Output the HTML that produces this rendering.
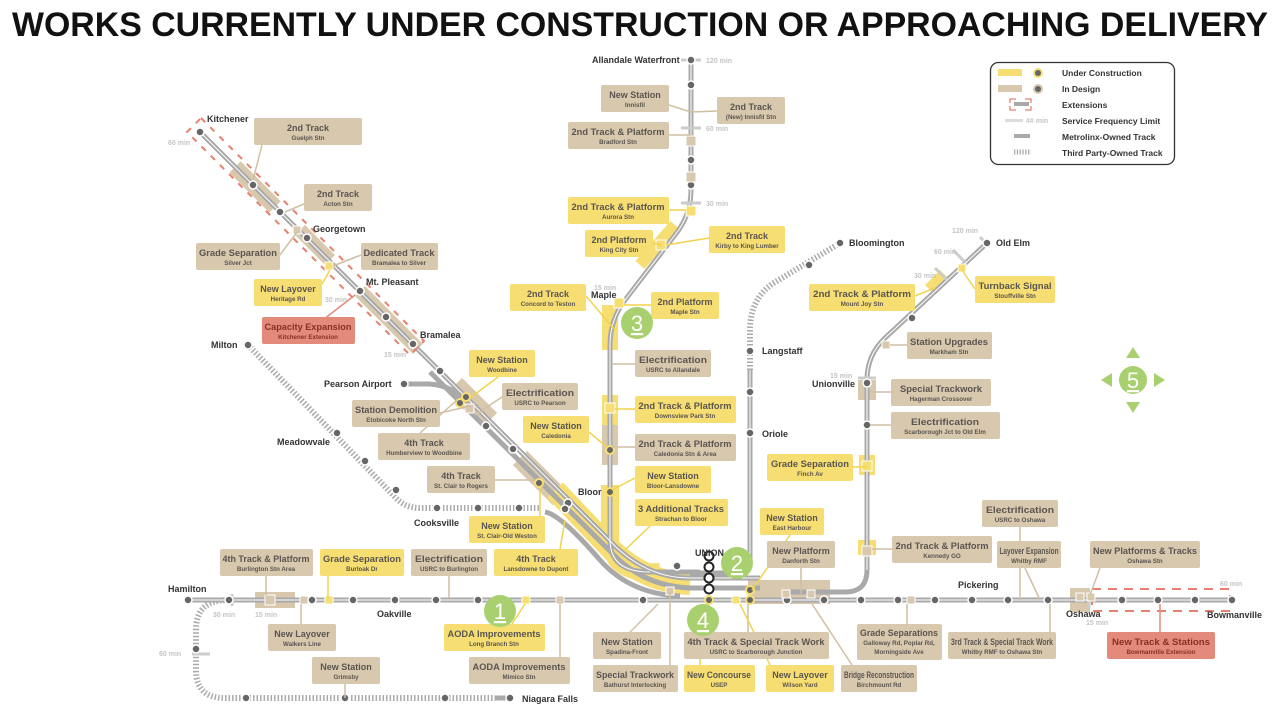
<!DOCTYPE html>
<html><head><meta charset="utf-8"><style>
html,body{margin:0;padding:0;background:#fff}
svg{display:block}
.t{fill:#d8c8ae}.y{fill:#f6de73}.r{fill:#e48a7b}
.h{font:bold 9px "Liberation Sans",sans-serif;fill:#5a5550;text-anchor:middle}
.s{font:bold 6.2px "Liberation Sans",sans-serif;fill:#5a5550;text-anchor:middle}
.rt .h,.rt .s{fill:#8a2f25}
.st{font:bold 9px "Liberation Sans",sans-serif;fill:#333}
.mn{font:bold 7px "Liberation Sans",sans-serif;fill:#c4c4c4}
.lg{font:bold 8.5px "Liberation Sans",sans-serif;fill:#333}
.d{fill:#666;stroke:#fff;stroke-width:1.5}
.dy{fill:#666;stroke:#f6de73;stroke-width:2}
.trk{fill:none;stroke:#a9a9a9;stroke-width:5}
.tp{fill:none;stroke:#aaa;stroke-width:6;stroke-dasharray:1.5 2}
.cn{stroke:#d0bfa3;stroke-width:1.5;fill:none}
.cy{stroke:#f0d34f;stroke-width:1.5;fill:none}
.gb{fill:#a9d06f}
.gn{font:22px "Liberation Sans",sans-serif;fill:#fff;text-anchor:middle;text-decoration:underline}
</style></head><body>
<svg width="1280" height="711" viewBox="0 0 1280 711" xmlns="http://www.w3.org/2000/svg">
<text x="640" y="36" text-anchor="middle" textLength="1256" lengthAdjust="spacingAndGlyphs" style="font:900 34px 'Liberation Sans',sans-serif;fill:#111">WORKS CURRENTLY UNDER CONSTRUCTION OR APPROACHING DELIVERY</text>

<g fill="none" stroke-linecap="butt">
<path d="M235,167 L275,207" stroke="#d8c8ae" stroke-width="16"/>
<path d="M300,230 L330,260" stroke="#d8c8ae" stroke-width="14"/>
<path d="M360,291 L418,349" stroke="#d8c8ae" stroke-width="14"/>
<path d="M455,385 L490,420" stroke="#d8c8ae" stroke-width="20"/>
<path d="M520,458 L560,498" stroke="#d8c8ae" stroke-width="20"/>
<path d="M555,490 L612,550 Q645,582 690,584" stroke="#f6de73" stroke-width="22"/>
<path d="M610,485 L610,540 Q612,575 660,572" stroke="#f6de73" stroke-width="18"/>
<path d="M610,395 L610,465" stroke="#d8c8ae" stroke-width="16"/>
<path d="M610,395 L610,425" stroke="#f6de73" stroke-width="16"/>
<path d="M610,305 L610,350" stroke="#f6de73" stroke-width="16"/>
<path d="M640,265 L675,225" stroke="#f6de73" stroke-width="12"/>
<path d="M748,592 L830,592" stroke="#d8c8ae" stroke-width="24"/>
<path d="M255,600 L295,600" stroke="#d8c8ae" stroke-width="16"/>
<path d="M867,380 L867,400" stroke="#d8c8ae" stroke-width="18"/>
<path d="M867,455 L867,475" stroke="#f6de73" stroke-width="16"/>
<path d="M867,540 L867,555" stroke="#f6de73" stroke-width="18"/>
<path d="M1070,600 L1090,600" stroke="#d8c8ae" stroke-width="24"/>
<path d="M930,290 L945,275" stroke="#f6de73" stroke-width="14"/>
</g>

<path class="tp" d="M248,345 L395,497 Q405,508 420,508 L540,508"/>
<path class="tp" d="M228,600 Q196,600 196,630 L196,670 Q196,698 225,698 L495,698"/>
<path class="trk" d="M495,698 L510,698"/>
<path class="tp" d="M750,370 L750,330 Q750,300 772,284 L840,243"/>
<path class="trk" d="M200,132 L610,541 Q645,578 690,578 L760,578"/>
<path class="trk" d="M430,372 L615,556 Q645,586 690,588 L760,588"/>
<path class="trk" d="M545,512 Q560,514 600,560 Q630,594 680,596"/>
<path class="trk" d="M404,384 L430,384 Q455,386 470,405"/>
<path class="trk" d="M691,60 L691,190 Q691,215 675,235 L625,300 Q610,320 610,345 L610,540 Q610,572 650,572 L700,572"/>
<path class="trk" d="M690,573 L735,573 Q750,573 750,558 L750,370"/>
<path class="trk" d="M790,592 L845,592 Q867,592 867,570 L867,380 Q867,355 885,338 L987,243"/>
<path class="trk" d="M185,600 L1232,600"/>
<g stroke="#fff" stroke-width="1" fill="none">
<path d="M200,132 L610,541 Q645,578 690,578 L760,578"/>
<path d="M691,60 L691,190 Q691,215 675,235 L625,300 Q610,320 610,345 L610,540 Q610,572 650,572"/>
<path d="M750,370 L750,558"/><path d="M867,570 L867,380 Q867,355 885,338 L987,243"/>
<path d="M185,600 L1232,600"/>
</g>

<polygon points="201,118 424,341 410,355 187,132" fill="none" stroke="#e8806e" stroke-width="2" stroke-dasharray="6 7"/>
<rect x="1092" y="589" width="138" height="22" fill="none" stroke="#e8806e" stroke-width="2" stroke-dasharray="9 7"/>

<g stroke="#ccc" stroke-width="3">
<path d="M681,60 L701,60"/><path d="M681,128 L701,128"/><path d="M681,203 L701,203"/>
<path d="M232,594 L232,606"/><path d="M272,594 L272,606"/><path d="M192,654 L210,654"/>
<path d="M858,378 L876,378"/><path d="M935,268 L947,280"/><path d="M953,250 L965,262"/><path d="M980,237 L990,247"/>
<path d="M1089,592 L1089,608"/>
</g>
<g class="mn">
<text x="706" y="63">120 min</text><text x="706" y="131">60 min</text><text x="706" y="206">30 min</text>
<text x="594" y="290">15 min</text><text x="168" y="145">60 min</text><text x="325" y="302">30 min</text><text x="384" y="357">15 min</text>
<text x="213" y="617">30 min</text><text x="255" y="617">15 min</text><text x="159" y="656">60 min</text>
<text x="830" y="378">15 min</text><text x="914" y="278">30 min</text><text x="934" y="254">60 min</text><text x="952" y="233">120 min</text>
<text x="1220" y="586">60 min</text><text x="1086" y="625">15 min</text>
</g>

<g>
<circle class="d" cx="200" cy="132" r="4"/><circle class="d" cx="253" cy="185" r="4"/><circle class="d" cx="280" cy="212" r="4"/><circle class="d" cx="307" cy="238" r="4"/><circle class="d" cx="360" cy="291" r="4"/><circle class="d" cx="386" cy="317" r="4"/><circle class="d" cx="413" cy="344" r="4"/><circle class="d" cx="440" cy="371" r="4"/><circle class="d" cx="486" cy="426" r="4"/><circle class="d" cx="513" cy="449" r="4"/>
<circle class="dy" cx="466" cy="397" r="4"/><circle class="dy" cx="460" cy="403" r="4"/><circle class="dy" cx="539" cy="483" r="4"/><circle class="d" cx="568" cy="503" r="4"/><circle class="d" cx="565" cy="509" r="4"/>
<circle class="d" cx="248" cy="345" r="4"/><circle class="d" cx="337" cy="433" r="4"/><circle class="d" cx="365" cy="461" r="4"/><circle class="d" cx="396" cy="490" r="4"/><circle class="d" cx="437" cy="508" r="4"/><circle class="d" cx="478" cy="508" r="4"/><circle class="d" cx="519" cy="508" r="4"/>
<circle class="d" cx="404" cy="384" r="4"/>
<circle class="d" cx="188" cy="600" r="4"/><circle class="d" cx="229" cy="600" r="4"/><circle class="d" cx="312" cy="600" r="4"/><circle class="d" cx="353" cy="600" r="4"/><circle class="d" cx="395" cy="600" r="4"/><circle class="d" cx="436" cy="600" r="4"/><circle class="d" cx="478" cy="600" r="4"/><circle class="d" cx="643" cy="600" r="4"/><circle class="dy" cx="709" cy="600" r="4"/><circle class="dy" cx="750" cy="600" r="4"/><circle class="dy" cx="750" cy="590" r="4"/><circle class="d" cx="787" cy="600" r="4"/><circle class="d" cx="824" cy="600" r="4"/><circle class="d" cx="861" cy="600" r="4"/><circle class="d" cx="898" cy="600" r="4"/><circle class="d" cx="935" cy="600" r="4"/><circle class="d" cx="972" cy="600" r="4"/><circle class="d" cx="1008" cy="600" r="4"/><circle class="d" cx="1048" cy="600" r="4"/><circle class="d" cx="1122" cy="600" r="4"/><circle class="d" cx="1158" cy="600" r="4"/><circle class="d" cx="1195" cy="600" r="4"/><circle class="d" cx="1232" cy="600" r="4"/>
<circle class="d" cx="246" cy="698" r="4"/><circle class="d" cx="345" cy="698" r="4"/><circle class="d" cx="445" cy="698" r="4"/><circle class="d" cx="510" cy="698" r="4"/><circle class="d" cx="196" cy="649" r="4"/>
<circle class="d" cx="691" cy="60" r="4"/><circle class="d" cx="691" cy="85" r="4"/><circle class="d" cx="691" cy="160" r="4"/><circle class="d" cx="691" cy="185" r="4"/><circle class="dy" cx="610" cy="450" r="4"/><circle class="dy" cx="610" cy="492" r="4"/><circle class="d" cx="677" cy="566" r="4"/>
<circle class="d" cx="750" cy="351" r="4"/><circle class="d" cx="750" cy="392" r="4"/><circle class="d" cx="750" cy="433" r="4"/><circle class="d" cx="809" cy="265" r="4"/><circle class="d" cx="840" cy="243" r="4"/>
<circle class="d" cx="987" cy="243" r="4"/><circle class="d" cx="912" cy="318" r="4"/><circle class="d" cx="867" cy="383" r="4"/><circle class="d" cx="867" cy="425" r="4"/>
<g fill="#fff" stroke="#222" stroke-width="2"><circle cx="709" cy="556" r="4.5"/><circle cx="709" cy="567" r="4.5"/><circle cx="709" cy="578" r="4.5"/><circle cx="709" cy="589" r="4.5"/></g>
</g>
<g fill="#f6de73" stroke="#fff" stroke-width="1"><rect x="325" y="262" width="8" height="8"/><rect x="325" y="596" width="8" height="8"/><rect x="522" y="596" width="8" height="8"/><rect x="732" y="596" width="8" height="8"/><rect x="686" y="206" width="10" height="10"/><rect x="605" y="403" width="10" height="10"/><rect x="614" y="298" width="10" height="10"/><rect x="656" y="240" width="10" height="10"/><rect x="862" y="461" width="10" height="10"/><rect x="958" y="264" width="8" height="8"/></g>
<g fill="#d8c8ae" stroke="#fff" stroke-width="1"><rect x="293" y="226" width="8" height="8"/><rect x="686" y="172" width="10" height="10"/><rect x="686" y="136" width="10" height="10"/><rect x="465" y="404" width="9" height="9"/><rect x="265" y="595" width="10" height="10"/><rect x="300" y="596" width="8" height="8"/><rect x="556" y="596" width="8" height="8"/><rect x="666" y="587" width="8" height="8"/><rect x="782" y="590" width="8" height="8"/><rect x="807" y="590" width="8" height="8"/><rect x="907" y="596" width="8" height="8"/><rect x="1076" y="593" width="8" height="8"/><rect x="1087" y="593" width="8" height="8"/><rect x="882" y="341" width="8" height="8"/><rect x="862" y="546" width="10" height="10"/></g>

<g class="cn">
<path d="M262,145 L253,180"/><path d="M304,204 L285,212"/><path d="M280,255 L297,232"/><path d="M361,255 L333,266"/><path d="M440,413 L470,406"/><path d="M420,433 L457,400"/><path d="M495,480 L535,480"/><path d="M502,397 L475,415"/><path d="M669,105 L691,112"/><path d="M717,111 L691,112"/><path d="M669,135 L691,135"/><path d="M635,364 L612,364"/><path d="M635,447 L612,447"/><path d="M266,576 L266,596"/><path d="M449,576 L449,598"/><path d="M301,604 L301,624"/><path d="M345,684 L345,698"/><path d="M560,604 L560,657"/><path d="M801,568 L801,594"/><path d="M812,604 L852,665"/><path d="M748,604 L748,632"/><path d="M630,632 L658,604"/><path d="M670,592 L670,665"/><path d="M907,604 L907,624"/><path d="M1020,527 L1020,600"/><path d="M1025,568 L1040,600"/><path d="M1100,568 L1090,595"/><path d="M1050,604 L1050,632"/><path d="M1160,604 L1160,632" style="stroke:#e48a7b"/><path d="M907,345 L890,345"/><path d="M891,392 L870,392"/><path d="M891,425 L870,425"/><path d="M892,549 L872,549"/>
</g>
<g class="cy">
<path d="M322,284 L330,270"/><path d="M310,330 L355,295" style="stroke:#e48a7b"/><path d="M498,377 L470,398"/><path d="M586,296 L615,330"/><path d="M651,305 L624,305"/><path d="M669,210 L686,210"/><path d="M653,243 L661,245"/><path d="M709,238 L666,245"/><path d="M589,432 L608,448"/><path d="M635,409 L615,409"/><path d="M635,478 L612,490"/><path d="M650,526 L625,550"/><path d="M540,516 L540,488"/><path d="M560,549 L565,520"/><path d="M328,576 L328,598"/><path d="M512,624 L525,604"/><path d="M790,535 L752,590"/><path d="M740,604 L770,665"/><path d="M700,655 L700,665"/><path d="M853,467 L867,467"/><path d="M915,296 L935,288"/><path d="M975,289 L962,270"/>
</g>

<g class="t"><rect x="254" y="118" width="108" height="27" rx="2"/><rect x="304" y="184" width="68" height="27" rx="2"/><rect x="196" y="243" width="84" height="27" rx="2"/><rect x="361" y="243" width="77" height="27" rx="2"/><rect x="502" y="383" width="76" height="27" rx="2"/><rect x="352" y="400" width="88" height="27" rx="2"/><rect x="378" y="433" width="92" height="27" rx="2"/><rect x="427" y="466" width="68" height="27" rx="2"/><rect x="220" y="549" width="93" height="27" rx="2"/><rect x="411" y="549" width="76" height="27" rx="2"/><rect x="268" y="624" width="68" height="27" rx="2"/><rect x="312" y="657" width="68" height="27" rx="2"/><rect x="469" y="657" width="101" height="27" rx="2"/><rect x="601" y="85" width="68" height="27" rx="2"/><rect x="717" y="97" width="68" height="27" rx="2"/><rect x="568" y="122" width="101" height="27" rx="2"/><rect x="635" y="350" width="76" height="27" rx="2"/><rect x="635" y="434" width="101" height="27" rx="2"/><rect x="767" y="541" width="68" height="27" rx="2"/><rect x="593" y="632" width="68" height="27" rx="2"/><rect x="684" y="632" width="145" height="27" rx="2"/><rect x="593" y="665" width="85" height="27" rx="2"/><rect x="841" y="665" width="76" height="27" rx="2"/><rect x="857" y="624" width="85" height="36" rx="2"/><rect x="892" y="536" width="100" height="27" rx="2"/><rect x="982" y="500" width="76" height="27" rx="2"/><rect x="997" y="541" width="64" height="27" rx="2"/><rect x="1090" y="541" width="110" height="27" rx="2"/><rect x="948" y="632" width="108" height="27" rx="2"/><rect x="907" y="332" width="85" height="27" rx="2"/><rect x="891" y="379" width="100" height="27" rx="2"/><rect x="891" y="412" width="109" height="27" rx="2"/></g>
<g class="y"><rect x="254" y="279" width="68" height="27" rx="2"/><rect x="469" y="350" width="66" height="27" rx="2"/><rect x="469" y="516" width="76" height="27" rx="2"/><rect x="494" y="549" width="84" height="27" rx="2"/><rect x="320" y="549" width="84" height="27" rx="2"/><rect x="444" y="624" width="101" height="27" rx="2"/><rect x="568" y="197" width="101" height="27" rx="2"/><rect x="585" y="230" width="68" height="27" rx="2"/><rect x="709" y="226" width="76" height="27" rx="2"/><rect x="510" y="284" width="76" height="27" rx="2"/><rect x="651" y="292" width="68" height="27" rx="2"/><rect x="635" y="396" width="101" height="27" rx="2"/><rect x="523" y="416" width="66" height="27" rx="2"/><rect x="635" y="466" width="76" height="27" rx="2"/><rect x="635" y="499" width="93" height="27" rx="2"/><rect x="760" y="508" width="64" height="27" rx="2"/><rect x="684" y="665" width="71" height="27" rx="2"/><rect x="766" y="665" width="68" height="27" rx="2"/><rect x="809" y="284" width="106" height="27" rx="2"/><rect x="975" y="276" width="80" height="27" rx="2"/><rect x="767" y="454" width="86" height="27" rx="2"/></g>
<g class="r"><rect x="262" y="317" width="93" height="27" rx="2"/><rect x="1107" y="632" width="108" height="27" rx="2"/></g>

<g>
<text class="h" x="308" y="131">2nd Track</text><text class="s" x="308" y="140">Guelph Stn</text>
<text class="h" x="338" y="197">2nd Track</text><text class="s" x="338" y="206">Acton Stn</text>
<text class="h" x="238" y="256" textLength="78" lengthAdjust="spacingAndGlyphs">Grade Separation</text><text class="s" x="238" y="265">Silver Jct</text>
<text class="h" x="399" y="256" textLength="71" lengthAdjust="spacingAndGlyphs">Dedicated Track</text><text class="s" x="399" y="265">Bramalea to Silver</text>
<text class="h" x="288" y="292">New Layover</text><text class="s" x="288" y="301">Heritage Rd</text>
<g class="rt"><text class="h" x="308" y="330" textLength="87" lengthAdjust="spacingAndGlyphs">Capacity Expansion</text><text class="s" x="308" y="339">Kitchener Extension</text>
<text class="h" x="1161" y="645" textLength="98" lengthAdjust="spacingAndGlyphs">New Track &amp; Stations</text><text class="s" x="1161" y="654">Bowmanville Extension</text></g>
<text class="h" x="502" y="363">New Station</text><text class="s" x="502" y="372">Woodbine</text>
<text class="h" x="540" y="396" textLength="68" lengthAdjust="spacingAndGlyphs">Electrification</text><text class="s" x="540" y="405">USRC to Pearson</text>
<text class="h" x="396" y="413" textLength="82" lengthAdjust="spacingAndGlyphs">Station Demolition</text><text class="s" x="396" y="422">Etobicoke North Stn</text>
<text class="h" x="424" y="446">4th Track</text><text class="s" x="424" y="455">Humberview to Woodbine</text>
<text class="h" x="461" y="479">4th Track</text><text class="s" x="461" y="488">St. Clair to Rogers</text>
<text class="h" x="507" y="529">New Station</text><text class="s" x="507" y="538">St. Clair-Old Weston</text>
<text class="h" x="536" y="562">4th Track</text><text class="s" x="536" y="571">Lansdowne to Dupont</text>
<text class="h" x="266" y="562" textLength="87" lengthAdjust="spacingAndGlyphs">4th Track &amp; Platform</text><text class="s" x="266" y="571">Burlington Stn Area</text>
<text class="h" x="362" y="562" textLength="78" lengthAdjust="spacingAndGlyphs">Grade Separation</text><text class="s" x="362" y="571">Burloak Dr</text>
<text class="h" x="449" y="562" textLength="68" lengthAdjust="spacingAndGlyphs">Electrification</text><text class="s" x="449" y="571">USRC to Burlington</text>
<text class="h" x="302" y="637">New Layover</text><text class="s" x="302" y="646">Walkers Line</text>
<text class="h" x="494" y="637" textLength="93" lengthAdjust="spacingAndGlyphs">AODA Improvements</text><text class="s" x="494" y="646">Long Branch Stn</text>
<text class="h" x="346" y="670">New Station</text><text class="s" x="346" y="679">Grimsby</text>
<text class="h" x="519" y="670" textLength="93" lengthAdjust="spacingAndGlyphs">AODA Improvements</text><text class="s" x="519" y="679">Mimico Stn</text>
<text class="h" x="635" y="98">New Station</text><text class="s" x="635" y="107">Innisfil</text>
<text class="h" x="751" y="110">2nd Track</text><text class="s" x="751" y="119">(New) Innisfil Stn</text>
<text class="h" x="618" y="135" textLength="93" lengthAdjust="spacingAndGlyphs">2nd Track &amp; Platform</text><text class="s" x="618" y="144">Bradford Stn</text>
<text class="h" x="618" y="210" textLength="93" lengthAdjust="spacingAndGlyphs">2nd Track &amp; Platform</text><text class="s" x="618" y="219">Aurora Stn</text>
<text class="h" x="619" y="243">2nd Platform</text><text class="s" x="619" y="252">King City Stn</text>
<text class="h" x="747" y="239">2nd Track</text><text class="s" x="747" y="248">Kirby to King Lumber</text>
<text class="h" x="548" y="297">2nd Track</text><text class="s" x="548" y="306">Concord to Teston</text>
<text class="h" x="685" y="305">2nd Platform</text><text class="s" x="685" y="314">Maple Stn</text>
<text class="h" x="673" y="363" textLength="68" lengthAdjust="spacingAndGlyphs">Electrification</text><text class="s" x="673" y="372">USRC to Allandale</text>
<text class="h" x="685" y="409" textLength="93" lengthAdjust="spacingAndGlyphs">2nd Track &amp; Platform</text><text class="s" x="685" y="418">Downsview Park Stn</text>
<text class="h" x="556" y="429">New Station</text><text class="s" x="556" y="438">Caledonia</text>
<text class="h" x="685" y="447" textLength="93" lengthAdjust="spacingAndGlyphs">2nd Track &amp; Platform</text><text class="s" x="685" y="456">Caledonia Stn &amp; Area</text>
<text class="h" x="673" y="479">New Station</text><text class="s" x="673" y="488">Bloor-Lansdowne</text>
<text class="h" x="681" y="512" textLength="86" lengthAdjust="spacingAndGlyphs">3 Additional Tracks</text><text class="s" x="681" y="521">Strachan to Bloor</text>
<text class="h" x="792" y="521">New Station</text><text class="s" x="792" y="530">East Harbour</text>
<text class="h" x="801" y="554">New Platform</text><text class="s" x="801" y="563">Danforth Stn</text>
<text class="h" x="627" y="645">New Station</text><text class="s" x="627" y="654">Spadina-Front</text>
<text class="h" x="756" y="645" textLength="137" lengthAdjust="spacingAndGlyphs">4th Track &amp; Special Track Work</text><text class="s" x="756" y="654">USRC to Scarborough Junction</text>
<text class="h" x="635" y="678" textLength="78" lengthAdjust="spacingAndGlyphs">Special Trackwork</text><text class="s" x="635" y="687">Bathurst Interlocking</text>
<text class="h" x="719" y="678" textLength="64" lengthAdjust="spacingAndGlyphs">New Concourse</text><text class="s" x="719" y="687">USEP</text>
<text class="h" x="800" y="678">New Layover</text><text class="s" x="800" y="687">Wilson Yard</text>
<text class="h" x="879" y="678" textLength="70" lengthAdjust="spacingAndGlyphs">Bridge Reconstruction</text><text class="s" x="879" y="687">Birchmount Rd</text>
<text class="h" x="899" y="636" textLength="78" lengthAdjust="spacingAndGlyphs">Grade Separations</text><text class="s" x="899" y="645">Galloway Rd, Poplar Rd,</text><text class="s" x="899" y="654">Morningside Ave</text>
<text class="h" x="942" y="549" textLength="93" lengthAdjust="spacingAndGlyphs">2nd Track &amp; Platform</text><text class="s" x="942" y="558">Kennedy GO</text>
<text class="h" x="1020" y="513" textLength="68" lengthAdjust="spacingAndGlyphs">Electrification</text><text class="s" x="1020" y="522">USRC to Oshawa</text>
<text class="h" x="1029" y="554" textLength="59" lengthAdjust="spacingAndGlyphs">Layover Expansion</text><text class="s" x="1029" y="563">Whitby RMF</text>
<text class="h" x="1145" y="554" textLength="104" lengthAdjust="spacingAndGlyphs">New Platforms &amp; Tracks</text><text class="s" x="1145" y="563">Oshawa Stn</text>
<text class="h" x="1002" y="645" textLength="102" lengthAdjust="spacingAndGlyphs">3rd Track &amp; Special Track Work</text><text class="s" x="1002" y="654">Whitby RMF to Oshawa Stn</text>
<text class="h" x="862" y="297" textLength="98" lengthAdjust="spacingAndGlyphs">2nd Track &amp; Platform</text><text class="s" x="862" y="306">Mount Joy Stn</text>
<text class="h" x="1015" y="289" textLength="73" lengthAdjust="spacingAndGlyphs">Turnback Signal</text><text class="s" x="1015" y="298">Stouffville Stn</text>
<text class="h" x="949" y="345" textLength="78" lengthAdjust="spacingAndGlyphs">Station Upgrades</text><text class="s" x="949" y="354">Markham Stn</text>
<text class="h" x="941" y="392" textLength="82" lengthAdjust="spacingAndGlyphs">Special Trackwork</text><text class="s" x="941" y="401">Hagerman Crossover</text>
<text class="h" x="945" y="425" textLength="68" lengthAdjust="spacingAndGlyphs">Electrification</text><text class="s" x="945" y="434">Scarborough Jct to Old Elm</text>
<text class="h" x="810" y="467" textLength="78" lengthAdjust="spacingAndGlyphs">Grade Separation</text><text class="s" x="810" y="476">Finch Av</text>
</g>

<g class="st">
<text x="207" y="122">Kitchener</text><text x="313" y="232">Georgetown</text><text x="366" y="285">Mt. Pleasant</text><text x="420" y="338">Bramalea</text>
<text x="211" y="348">Milton</text><text x="324" y="387">Pearson Airport</text><text x="277" y="445">Meadowvale</text><text x="414" y="526">Cooksville</text><text x="578" y="495">Bloor</text>
<text x="168" y="592">Hamilton</text><text x="377" y="617">Oakville</text><text x="522" y="702">Niagara Falls</text><text x="695" y="556">UNION</text>
<text x="592" y="63">Allandale Waterfront</text><text x="591" y="298">Maple</text><text x="762" y="354">Langstaff</text><text x="762" y="437">Oriole</text>
<text x="849" y="246">Bloomington</text><text x="996" y="246">Old Elm</text><text x="812" y="387">Unionville</text><text x="958" y="588">Pickering</text><text x="1066" y="617">Oshawa</text><text x="1207" y="618">Bowmanville</text>
</g>

<g>
<circle class="gb" cx="500" cy="611" r="16"/><text class="gn" x="500" y="619">1</text>
<circle class="gb" cx="737" cy="563" r="16"/><text class="gn" x="737" y="571">2</text>
<circle class="gb" cx="637" cy="323" r="16"/><text class="gn" x="637" y="331">3</text>
<circle class="gb" cx="703" cy="620" r="16"/><text class="gn" x="703" y="628">4</text>
<circle class="gb" cx="1133" cy="380" r="14"/><text class="gn" x="1133" y="388">5</text>
<g fill="#a9d06f"><polygon points="1133,347 1126,358 1140,358"/><polygon points="1133,413 1126,402 1140,402"/><polygon points="1101,380 1112,373 1112,387"/><polygon points="1165,380 1154,373 1154,387"/></g>
</g>

<rect x="990.5" y="62.5" width="184" height="102" rx="8" fill="#fff" stroke="#333" stroke-width="1.3"/>
<rect x="998" y="69" width="24" height="7" fill="#f6de73"/><circle cx="1038" cy="73" r="4" fill="#666" stroke="#f6de73" stroke-width="2"/>
<rect x="998" y="85" width="24" height="7" fill="#d8c8ae"/><circle cx="1038" cy="89" r="4" fill="#666" stroke="#d8c8ae" stroke-width="2"/>
<rect x="1014" y="102" width="15" height="4" fill="#a9a9a9"/><path d="M1010,103 v-4 h6 M1025,99 h6 v4 M1010,106 v4 h6 M1025,110 h6 v-4" stroke="#e8806e" fill="none" stroke-width="1.3"/>
<rect x="1005" y="119" width="18" height="3" fill="#ddd"/><text x="1026" y="123" class="mn">## min</text>
<rect x="1014" y="134" width="16" height="4" fill="#a9a9a9"/>
<path d="M1014,152 h17" stroke="#aaa" stroke-width="5" stroke-dasharray="1.3 1.5"/>
<g class="lg"><text x="1062" y="76">Under Construction</text><text x="1062" y="92">In Design</text><text x="1062" y="108">Extensions</text><text x="1062" y="124">Service Frequency Limit</text><text x="1062" y="140">Metrolinx-Owned Track</text><text x="1062" y="156">Third Party-Owned Track</text></g>
</svg>
</body></html>
